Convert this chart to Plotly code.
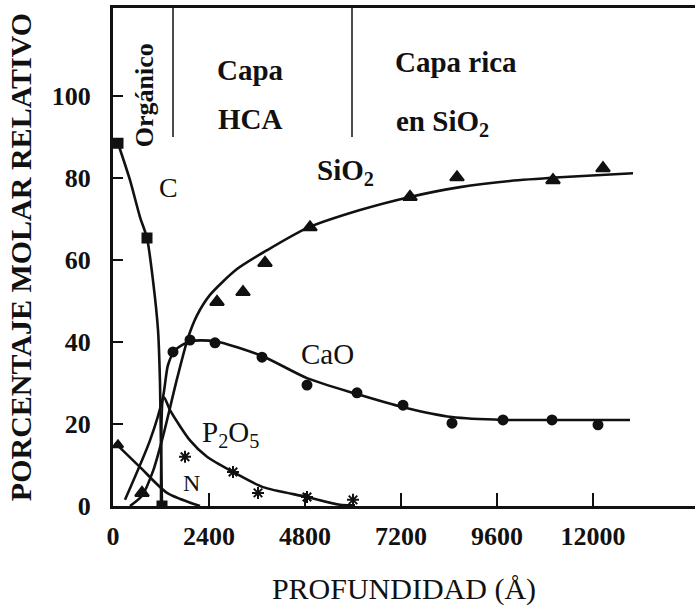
import plotly.graph_objects as go

# Depth in Angstrom, relative molar percentage
# --- measured points ---
c_x = [125, 850, 1225]
c_y = [88.5, 65.4, 0]

sio2_x = [725, 2600, 3250, 3800, 4925, 7425, 8600, 11000, 12250]
sio2_y = [3.2, 49.8, 52.2, 59.3, 68.0, 75.4, 80.2, 79.5, 82.4]

cao_x = [1500, 1925, 2550, 3725, 4850, 6100, 7250, 8475, 9750, 10975, 12125]
cao_y = [37.6, 40.5, 39.8, 36.3, 29.5, 27.6, 24.6, 20.2, 21.0, 21.0, 19.8]

p2o5_x = [1800, 3000, 3625, 4850, 6000]
p2o5_y = [12.0, 8.3, 3.2, 2.2, 1.5]

n_x = [125]
n_y = [14.9]

# --- smoothed trend curves ---
c_fit_x = [125, 425, 675, 850, 1000, 1125, 1175, 1200, 1225]
c_fit_y = [88.5, 79.5, 70.5, 65.4, 55, 43, 30, 13.7, 0]

sio2_fit_x = [425, 725, 1000, 1250, 1600, 1875, 2100, 2425, 3100, 3850, 4850,
              6175, 7425, 8675, 9925, 11175, 13000]
sio2_fit_y = [0, 2.5, 8.5, 17, 31, 41, 46.5, 51.5, 57.8, 62.4, 67.8,
              72.2, 75.4, 77.8, 79.3, 80.2, 81.2]

cao_fit_x = [300, 925, 1250, 1375, 1550, 1925, 2550, 3725, 4850, 6100, 7250,
             8475, 9750, 10975, 12925]
cao_fit_y = [1.5, 16, 26.6, 34.4, 38, 40.2, 40.2, 36.6, 31.2, 27.3, 24.1,
             21.7, 21, 21, 21]

p2o5_fit_x = [1200, 1275, 1425, 1925, 2350, 3000, 3750, 4850, 5675, 6050]
p2o5_fit_y = [0, 26.5, 23.4, 16, 12, 8.3, 4.6, 2.2, 0.3, 0.2]

n_fit_x = [50, 675, 1350, 2175]
n_fit_y = [15.4, 9.5, 3.2, 0]

# Layer boundaries (Orgánico | Capa HCA | Capa rica en SiO2)
layer_bounds = [1500, 5975]
layer_mark_bottom = 90

x_ticks = [0, 2400, 4800, 7200, 9600, 12000]
y_ticks = [0, 20, 40, 60, 80, 100]

SERIF = "Liberation Serif, Times New Roman, serif"
INK = "#111111"

fig = go.Figure()

curves = [
    (c_fit_x, c_fit_y),
    (sio2_fit_x, sio2_fit_y),
    (cao_fit_x, cao_fit_y),
    (p2o5_fit_x, p2o5_fit_y),
    (n_fit_x, n_fit_y),
]
for cx, cy in curves:
    fig.add_trace(go.Scatter(
        x=cx, y=cy, mode="lines",
        line=dict(color=INK, width=2.6, shape="spline", smoothing=0.7),
        hoverinfo="skip", showlegend=False,
    ))

points = [
    (c_x, c_y, "square", 9),
    (sio2_x, sio2_y, "triangle-up", 12),
    (cao_x, cao_y, "circle", 9),
    (p2o5_x, p2o5_y, "asterisk-open", 10),
    (n_x, n_y, "triangle-up", 9),
]
for px, py, sym, sz in points:
    fig.add_trace(go.Scatter(
        x=px, y=py, mode="markers",
        marker=dict(symbol=sym, size=sz, color=INK,
                    line=dict(color=INK, width=2)),
        showlegend=False,
    ))

for xb in layer_bounds:
    fig.add_shape(type="line", xref="x", yref="y",
                  x0=xb, x1=xb, y0=layer_mark_bottom, y1=121.5,
                  line=dict(color=INK, width=1.5))

def label(text, x, y, size=29, bold=True, angle=0):
    t = f"<b>{text}</b>" if bold else text
    fig.add_annotation(x=x, y=y, xref="x", yref="y", text=t, showarrow=False,
                       textangle=angle,
                       font=dict(family=SERIF, size=size, color=INK))

label("Orgánico", 775, 100.2, size=26, angle=-90)
label("Capa", 3425, 106.3)
label("HCA", 3425, 94.4)
label("Capa rica", 8575, 108.3)
label("en SiO<sub>2</sub>", 8225, 93.5)
label("SiO<sub>2</sub>", 5800, 81.5)
label("C", 1375, 77.8, bold=False, size=28)
label("CaO", 5350, 37.1, bold=False)
label("P<sub>2</sub>O<sub>5</sub>", 2925, 17.5, bold=False)
label("N", 1950, 5.6, bold=False, size=24)

fig.update_layout(
    width=695, height=611,
    margin=dict(l=113, r=0, t=8, b=105),
    paper_bgcolor="white", plot_bgcolor="white",
    font=dict(family=SERIF, color=INK),
    xaxis=dict(
        range=[0, 14550], tickvals=x_ticks,
        ticktext=[f"<b>{v}</b>" for v in x_ticks],
        ticks="inside", ticklen=13, tickwidth=1.5, tickcolor=INK,
        showline=True, linewidth=3, linecolor=INK, mirror=True,
        showgrid=False, zeroline=False, ticklabelstandoff=5,
        tickfont=dict(family=SERIF, size=26, color=INK),
        title=dict(text="PROFUNDIDAD (Å)", standoff=28,
                   font=dict(family=SERIF, size=30, color=INK)),
    ),
    yaxis=dict(
        range=[0, 121.5], tickvals=y_ticks,
        ticktext=[f"<b>{v}</b>" for v in y_ticks],
        ticks="inside", ticklen=10, tickwidth=1.5, tickcolor=INK,
        showline=True, linewidth=3, linecolor=INK, mirror=False,
        showgrid=False, zeroline=False, ticklabelstandoff=14,
        tickfont=dict(family=SERIF, size=26, color=INK),
        title=dict(text="<b>PORCENTAJE MOLAR RELATIVO</b>", standoff=12,
                   font=dict(family=SERIF, size=30, color=INK)),
    ),
)

fig.write_html("out.html")
